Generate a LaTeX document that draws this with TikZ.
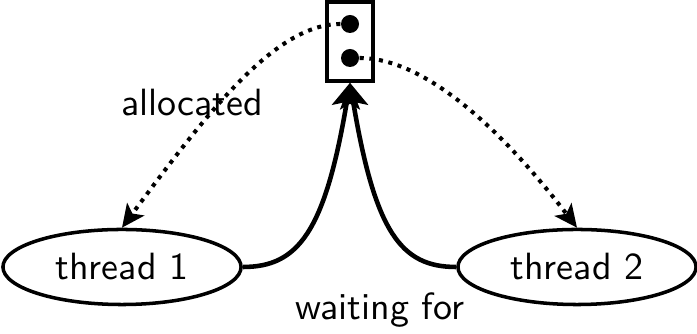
\documentclass[tikz,border=0pt]{standalone}
\usepackage{tikz}
\usetikzlibrary{shapes.geometric, arrows.meta}

\begin{document}
\begin{tikzpicture}[
      x=0.01cm, y=0.01cm,
      font=\sffamily\fontsize{10.8}{13}\selectfont,
      thread/.style={ellipse, draw, line width=1pt, minimum width=2.38cm,
                     minimum height=0.75cm, inner sep=0pt},
      lockbox/.style={rectangle, draw, line width=1pt, minimum width=0.46cm,
                      minimum height=0.79cm, inner sep=0pt},
      slot/.style={circle, fill, minimum size=0.18cm, inner sep=0pt},
      alloc/.style={-{Stealth[length=6.5pt, width=6pt, inset=1.5pt]}, line width=1.15pt,
                    dash pattern=on 1.15pt off 1.6pt},
      wait/.style={-{Stealth[length=7pt, width=8pt, inset=1.5pt]}, line width=1.3pt},
      ]
    \useasboundingbox (0,0) rectangle (697,334);

    \node[lockbox] (lock) at (350,292.5) {};
    \node[slot] (s1) at (350,310) {};
    \node[slot] (s2) at (350,276) {};
    \node[thread] (t1) at (122,67) {thread 1};
    \node[thread] (t2) at (577,67) {thread 2};
    \node (alloclbl) at (192,231) {allocated};
    \node[anchor=base] (waitlbl) at (380,14) {waiting for};

    % dotted: slot -> thread that holds it
    \draw[alloc] (s1.west) .. controls +(-65,0) and +(85,115) .. (t1.north);
    \draw[alloc] (s2.east) .. controls +(65,0) and +(-75,98) .. (t2.north);
    % solid: thread -> lock it waits on
    \draw[wait] (t1.east) .. controls +(55,0) and +(-25,-150) .. (lock.south);
    \draw[wait] (t2.west) .. controls +(-55,0) and +(25,-150) .. (lock.south);
  \end{tikzpicture}
\end{document}
